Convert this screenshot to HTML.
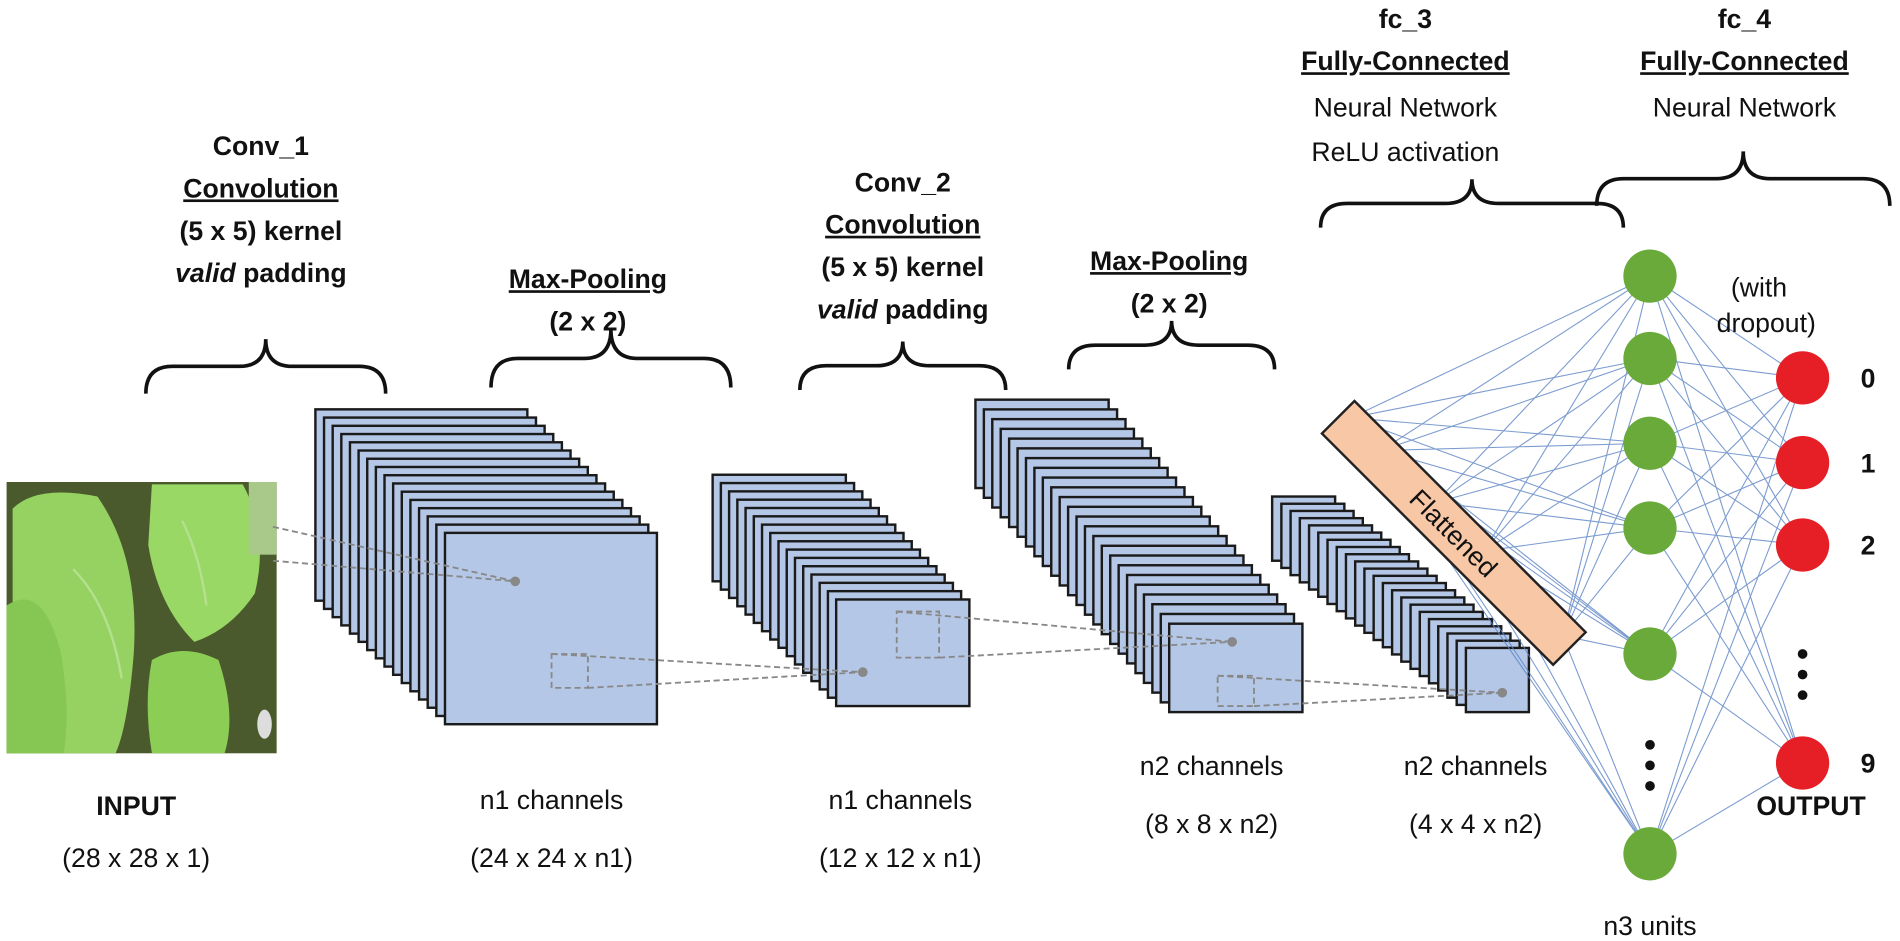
<!DOCTYPE html>
<html><head><meta charset="utf-8"><style>
html,body{margin:0;padding:0;background:#fff}
svg{display:block}
text{font-family:"Liberation Sans",sans-serif;fill:#111}
.b{font-weight:bold}
</style></head><body>
<svg id="s" width="1900" height="941" viewBox="0 0 1568 777" xmlns="http://www.w3.org/2000/svg">
<g id="input">
<rect x="5" y="398" width="223" height="224" fill="#4a5a2c"/>
<path d="M10,420 Q30,400 80,410 Q115,460 110,540 Q105,600 95,622 L10,622 Z" fill="#95d262"/>
<path d="M125,400 L200,400 Q222,440 210,490 Q190,520 160,530 Q130,500 122,450 Z" fill="#9ad866"/>
<path d="M125,545 Q150,530 180,545 Q195,590 185,622 L125,622 Q118,580 125,545 Z" fill="#8ccd56"/>
<path d="M5,500 Q35,480 50,540 Q58,590 52,622 L5,622 Z" fill="#86c652"/>
<path d="M60,470 Q90,500 100,560" stroke="#b5e08e" stroke-width="2" fill="none"/>
<path d="M150,430 Q165,460 170,500" stroke="#b5e08e" stroke-width="2" fill="none"/>
<rect x="205" y="398" width="23" height="60" fill="#a9c98a"/>
<ellipse cx="218" cy="598" rx="6" ry="12" fill="#ddd"/>
</g>
<g id="stacks"></g>
<g id="dash" stroke="#888" stroke-width="1.5" stroke-dasharray="5,3" fill="none"></g>
<g id="conn" stroke="#5b83c4" stroke-width="0.9" opacity="0.8"></g>
<g transform="translate(1200,440) rotate(45)">
<rect x="-135" y="-19" width="270" height="38" fill="#f8c8a6" stroke="#222" stroke-width="2"/>
<text x="0" y="8" font-size="22" text-anchor="middle">Flattened</text>
</g>
<g id="nodes"></g>
<g id="braces" fill="none" stroke="#111" stroke-width="3"></g>

<g font-size="22" text-anchor="middle">
<text x="215" y="128" class="b">Conv_1</text>
<text x="215" y="163" class="b" text-decoration="underline">Convolution</text>
<text x="215" y="198" class="b">(5 x 5) kernel</text>
<text x="215" y="233" class="b"><tspan font-style="italic">valid</tspan> padding</text>
<text x="485" y="238" class="b" text-decoration="underline">Max-Pooling</text>
<text x="485" y="273" class="b">(2 x 2)</text>
<text x="745" y="158" class="b">Conv_2</text>
<text x="745" y="193" class="b" text-decoration="underline">Convolution</text>
<text x="745" y="228" class="b">(5 x 5) kernel</text>
<text x="745" y="263" class="b"><tspan font-style="italic">valid</tspan> padding</text>
<text x="965" y="223" class="b" text-decoration="underline">Max-Pooling</text>
<text x="965" y="258" class="b">(2 x 2)</text>
<text x="1160" y="23" class="b">fc_3</text>
<text x="1160" y="58" class="b" text-decoration="underline">Fully-Connected</text>
<text x="1160" y="96">Neural Network</text>
<text x="1160" y="133">ReLU activation</text>
<text x="1440" y="23" class="b">fc_4</text>
<text x="1440" y="58" class="b" text-decoration="underline">Fully-Connected</text>
<text x="1440" y="96">Neural Network</text>
<text x="1452" y="245">(with</text>
<text x="1458" y="274">dropout)</text>
<text x="112" y="673" class="b">INPUT</text>
<text x="112" y="716">(28 x 28 x 1)</text>
<text x="455" y="668">n1 channels</text>
<text x="455" y="716">(24 x 24 x n1)</text>
<text x="743" y="668">n1 channels</text>
<text x="743" y="716">(12 x 12 x n1)</text>
<text x="1000" y="640">n2 channels</text>
<text x="1000" y="688">(8 x 8 x n2)</text>
<text x="1218" y="640">n2 channels</text>
<text x="1218" y="688">(4 x 4 x n2)</text>
<text x="1362" y="772">n3 units</text>
<text x="1495" y="673" class="b">OUTPUT</text>
<text x="1542" y="320" class="b">0</text>
<text x="1542" y="390" class="b">1</text>
<text x="1542" y="458" class="b">2</text>
<text x="1542" y="638" class="b">9</text>
</g>
</svg>
<script>
var NS="http://www.w3.org/2000/svg";
function el(p,t,a){var e=document.createElementNS(NS,t);for(var k in a)e.setAttribute(k,a[k]);document.getElementById(p).appendChild(e);return e;}
function stack(bx,by,fx,fy,w,h,n){
 for(var i=0;i<n;i++){var x=bx+(fx-bx)*i/(n-1),y=by+(fy-by)*i/(n-1);
  el("stacks","rect",{x:x,y:y,width:w,height:h,fill:"#b4c7e7",stroke:"#1a1a1a","stroke-width":2});}
}
stack(260,338,367,440,175,158,16);
stack(588,392,690,495,110,88,16);
stack(805,330,965,515,110,73,24);
stack(1050,410,1210,535,52,53,22);
function dl(a,b,c,d){el("dash","line",{x1:a,y1:b,x2:c,y2:d});}
dl(225,435,425,480);dl(225,463,425,480);
el("dash","rect",{x:455,y:540,width:30,height:28});
dl(455,540,712,555);dl(485,568,712,555);
el("dash","rect",{x:740,y:505,width:35,height:38});
dl(740,505,1017,530);dl(775,543,1017,530);
el("dash","rect",{x:1005,y:558,width:30,height:25});
dl(1005,558,1240,572);dl(1035,583,1240,572);
[[425,480],[712,555],[1017,530],[1240,572]].forEach(function(p){el("dash","circle",{cx:p[0],cy:p[1],r:4,fill:"#888",stroke:"none"});});
var G=[228,296,366,436,540,705],R=[312,382,450,630];
var F=[[1115,345],[1140,372],[1185,415],[1225,455],[1290,525]];
F.forEach(function(f){G.forEach(function(g){el("conn","line",{x1:f[0],y1:f[1],x2:1362,y2:g});});});
G.forEach(function(g){R.forEach(function(r){el("conn","line",{x1:1362,y1:g,x2:1488,y2:r});});});
G.forEach(function(g){el("nodes","ellipse",{cx:1362,cy:g,rx:22,ry:22,fill:"#6aaa3a"});});
R.forEach(function(r){el("nodes","ellipse",{cx:1488,cy:r,rx:22,ry:22,fill:"#e61e25"});});
[615,632,649].forEach(function(y){el("nodes","circle",{cx:1362,cy:y,r:4,fill:"#111"});});
[540,557,574].forEach(function(y){el("nodes","circle",{cx:1488,cy:y,r:4,fill:"#111"});});
function brace(x1,x2,yt,yb){var c=(x1+x2)/2,m=(yt+yb)/2,r=22;
 el("braces","path",{d:"M"+x1+","+yb+" Q"+x1+","+m+" "+(x1+r)+","+m+" L"+(c-r)+","+m+" Q"+c+","+m+" "+c+","+yt+" Q"+c+","+m+" "+(c+r)+","+m+" L"+(x2-r)+","+m+" Q"+x2+","+m+" "+x2+","+yb});}
brace(120,318,280,325);brace(405,603,272,320);brace(660,830,282,322);brace(882,1052,265,305);
brace(1090,1340,148,188);brace(1318,1560,125,170);
</script>
</body></html>
